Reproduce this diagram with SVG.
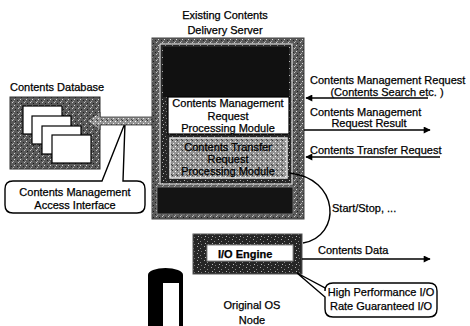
<svg xmlns="http://www.w3.org/2000/svg" width="470" height="326" viewBox="0 0 470 326">
  <style>
    .t { font-family: "Liberation Sans", Arial, sans-serif; font-size: 11px; fill: #000; stroke: #000; stroke-width: 0.25; }
    .c { text-anchor: middle; }
    .ln { stroke: #000; stroke-width: 1.4; fill: none; }
    .box { fill: #fff; stroke: #000; stroke-width: 1.2; }
  </style>
  <defs>
    <!-- speckled grain for shaded areas -->
    <pattern id="grainDark" width="7" height="7" patternUnits="userSpaceOnUse">
      <rect width="7" height="7" fill="#262626"/>
      <rect x="1" y="1" width="1" height="1" fill="#aaa"/>
      <rect x="4" y="3" width="1" height="1" fill="#888"/>
      <rect x="2" y="5" width="1" height="1" fill="#bbb"/>
      <rect x="5" y="6" width="1" height="1" fill="#777"/>
    </pattern>
    <pattern id="grainMid" width="6" height="6" patternUnits="userSpaceOnUse">
      <rect width="6" height="6" fill="#5a5a5a"/>
      <rect x="0" y="0" width="1" height="1" fill="#ccc"/>
      <rect x="3" y="1" width="1" height="1" fill="#1a1a1a"/>
      <rect x="2" y="3" width="1" height="1" fill="#ddd"/>
      <rect x="5" y="4" width="1" height="1" fill="#222"/>
      <rect x="1" y="5" width="1" height="1" fill="#aaa"/>
    </pattern>
    <pattern id="grainLight" width="5" height="5" patternUnits="userSpaceOnUse">
      <rect width="5" height="5" fill="#949494"/>
      <rect x="0" y="1" width="1" height="1" fill="#fff"/>
      <rect x="2" y="0" width="1" height="1" fill="#333"/>
      <rect x="3" y="3" width="1" height="1" fill="#eee"/>
      <rect x="1" y="4" width="1" height="1" fill="#444"/>
    </pattern>
    <marker id="head" viewBox="0 0 10 10" refX="9" refY="5" markerWidth="9" markerHeight="7" markerUnits="userSpaceOnUse" orient="auto">
      <path d="M0,0 L10,5 L0,10 Z" fill="#000"/>
    </marker>
  </defs>

  <rect width="470" height="326" fill="#fff"/>

  <!-- Existing Contents Delivery Server -->
  <g id="server">
    <text class="t c" x="225" y="19">Existing Contents</text>
    <text class="t c" x="225" y="34">Delivery Server</text>
    <rect x="152" y="38" width="152" height="181" fill="url(#grainMid)" stroke="#444"/>
    <rect x="160" y="44" width="132" height="140" fill="url(#grainDark)" stroke="#ddd" stroke-width="1.2"/>
    <rect x="163" y="47" width="126" height="50" fill="#111"/>
    <rect x="157" y="187" width="136" height="27" fill="#141414" stroke="#888" stroke-width="0.8"/>
  </g>

  <g id="cm-module">
    <rect class="box" x="168" y="97" width="121" height="37"/>
    <text class="t c" x="228" y="107">Contents Management</text>
    <text class="t c" x="228" y="120">Request</text>
    <text class="t c" x="228" y="132">Processing Module</text>
  </g>

  <g id="ct-module">
    <rect x="170" y="138" width="117" height="40" fill="url(#grainLight)" stroke="#e0e0e0" stroke-width="1.5"/>
    <text class="t c" x="228" y="151">Contents Transfer</text>
    <text class="t c" x="228" y="163">Request</text>
    <text class="t c" x="228" y="175">Processing Module</text>
  </g>

  <!-- Contents Database -->
  <g id="database">
    <text class="t" x="10" y="91">Contents Database</text>
    <rect x="10" y="97" width="90" height="72" fill="url(#grainMid)" stroke="#333"/>
    <rect class="box" x="23" y="106" width="39" height="28"/>
    <rect class="box" x="32" y="116" width="39" height="28"/>
    <rect class="box" x="42" y="126" width="39" height="28"/>
    <rect class="box" x="52" y="135" width="39" height="28"/>
  </g>

  <!-- Contents Management Access Interface callout -->
  <g id="access-callout">
    <path class="ln" stroke-width="1.2" d="M13,181 H102 L125,123 L123,181 H137 Q145,181 145,189 V205 Q145,213 137,213 H13 Q5,213 5,205 V189 Q5,181 13,181 Z" fill="#fff"/>
    <text class="t c" x="75" y="196">Contents Management</text>
    <text class="t c" x="75" y="209">Access Interface</text>
  </g>

  <!-- Original OS Node -->
  <g id="os-node">
    <rect x="193" y="234" width="109" height="40" fill="url(#grainDark)" stroke="#555"/>
    <rect x="207" y="245" width="86" height="16" fill="#fff" stroke="#888"/>
    <text class="t" x="218" y="258" font-size="12" font-weight="bold">I/O Engine</text>
    <text class="t c" x="252" y="309">Original OS</text>
    <text class="t c" x="252" y="324">Node</text>
  </g>

  <!-- disk -->
  <g id="disk">
    <rect x="148" y="275" width="35" height="53" fill="#000"/>
    <ellipse cx="165.5" cy="275" rx="17.5" ry="7" fill="#000"/>
    <rect x="163" y="283" width="16" height="45" fill="#fff"/>
  </g>

  <!-- High Performance callout -->
  <g id="io-callout">
    <path class="ln" stroke-width="1.2" fill="#fff" d="M297,273 L325,288 V291 Q325,283 333,283 H429 Q437,283 437,291 V309 Q437,317 429,317 H333 Q325,317 325,309 V297 Z"/>
    <text class="t c" x="381" y="296">High Performance I/O</text>
    <text class="t c" x="381" y="310">Rate Guaranteed I/O</text>
  </g>

  <g id="connectors">
    <!-- access interface arrow -->
    <path d="M152,117 H100 V112 L87,121 L100,130 V125 H152 Z" fill="url(#grainLight)" stroke="#333" stroke-width="0.8"/>
    <!-- request / result lines -->
    <line class="ln" x1="428" y1="98" x2="306" y2="98" marker-end="url(#head)"/>
    <line class="ln" x1="304" y1="130" x2="430" y2="130" marker-end="url(#head)"/>
    <line class="ln" x1="440" y1="157" x2="306" y2="157" marker-end="url(#head)"/>
    <!-- start/stop control -->
    <path class="ln" d="M289,173 C340,178 342,236 303,243"/>
    <!-- contents data -->
    <line class="ln" x1="302" y1="259" x2="430" y2="259" marker-end="url(#head)"/>
  </g>

  <g id="labels">
    <text class="t" x="310" y="84">Contents Management Request</text>
    <text class="t c" x="387" y="96">(Contents Search etc. )</text>
    <text class="t" x="310" y="116">Contents Management</text>
    <text class="t c" x="369" y="127">Request Result</text>
    <text class="t" x="310" y="154">Contents Transfer Request</text>
    <text class="t" x="332" y="212">Start/Stop, ...</text>
    <text class="t" x="318" y="254">Contents Data</text>
  </g>
</svg>
